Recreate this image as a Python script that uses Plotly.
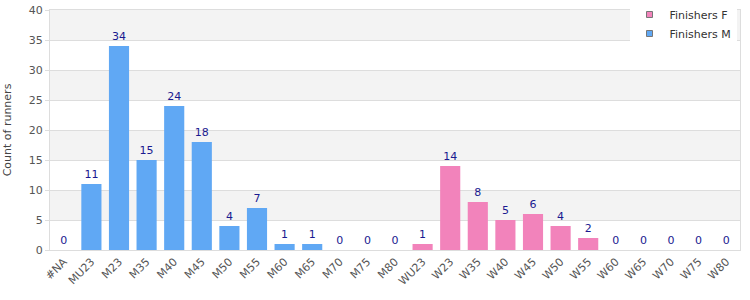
import plotly.graph_objects as go

categories = ["#NA", "MU23", "M23", "M35", "M40", "M45", "M50", "M55", "M60", "M65",
              "M70", "M75", "M80", "WU23", "W23", "W35", "W40", "W45", "W50", "W55",
              "W60", "W65", "W70", "W75", "W80"]
male_cats = categories[:13]
male_vals = [0, 11, 34, 15, 24, 18, 4, 7, 1, 1, 0, 0, 0]
female_cats = categories[13:]
female_vals = [1, 14, 8, 5, 6, 4, 2, 0, 0, 0, 0, 0, 0]

label_color = "#1a1a90"
col_f = "#f283bb"
col_m = "#60a8f4"
fig = go.Figure()
fig.add_trace(go.Bar(x=female_cats, y=female_vals, name="Finishers F", showlegend=False,
                     marker=dict(color=col_f, line=dict(width=0)),
                     text=[str(v) for v in female_vals], textposition="outside",
                     textfont=dict(color=label_color, size=11), cliponaxis=False))
fig.add_trace(go.Bar(x=male_cats, y=male_vals, name="Finishers M", showlegend=False,
                     marker=dict(color=col_m, line=dict(width=0)),
                     text=[str(v) for v in male_vals], textposition="outside",
                     textfont=dict(color=label_color, size=11), cliponaxis=False))
for nm, c in [("Finishers F", col_f), ("Finishers M", col_m)]:
    fig.add_trace(go.Scatter(x=[None], y=[None], mode="markers", name=nm,
                             marker=dict(symbol="square", size=6, color=c,
                                         line=dict(color="#777", width=1))))

shapes = []
for lo in [5, 15, 25, 35]:
    shapes.append(dict(type="rect", xref="paper", yref="y", x0=0, x1=1, y0=lo, y1=lo + 5,
                       fillcolor="#f3f3f3", line=dict(width=0), layer="below"))

fig.update_layout(
    width=750, height=300,
    margin=dict(l=50, r=10, t=10, b=50, autoexpand=False),
    paper_bgcolor="white", plot_bgcolor="white",
    font=dict(family="DejaVu Sans", size=11, color="#444"),
    barmode="overlay", bargap=0.27,
    shapes=shapes,
    showlegend=True,
    legend=dict(xref="container", yref="container", x=0.982, y=1.035, xanchor="right", yanchor="top",
                bgcolor="white", font=dict(size=11, color="#333"), tracegroupgap=0,
                traceorder="normal", itemwidth=30),
    xaxis=dict(type="category", categoryorder="array", categoryarray=categories,
               tickangle=-45, showgrid=False, showline=True, linecolor="#dddddd", mirror=True,
               tickfont=dict(size=11, color="#555"), ticks="", automargin=False),
    yaxis=dict(range=[0, 40], dtick=5, showgrid=True, gridcolor="#dddddd", showline=True,
               linecolor="#dddddd", mirror=True, zeroline=False,
               ticks="outside", ticklen=4, tickcolor="#dddddd",
               tickfont=dict(size=11, color="#555"), automargin=False,
               title=dict(text="Count of runners", font=dict(size=11, color="#444"), standoff=14)),
)
fig.write_html("out.html")
